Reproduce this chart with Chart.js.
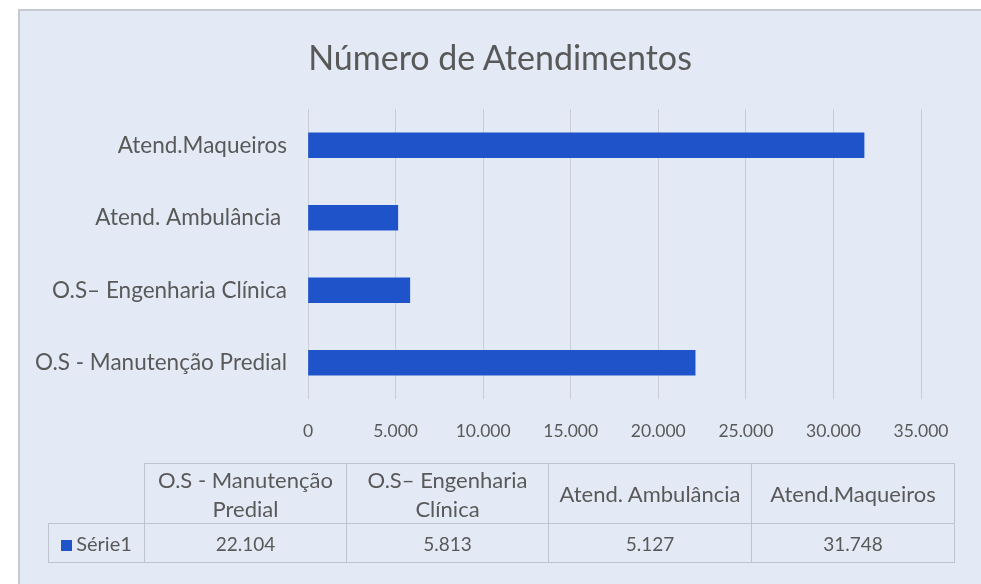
<!DOCTYPE html>
<html>
<head>
<meta charset="utf-8">
<script src="https://cdn.jsdelivr.net/npm/chart.js@4.4.1/dist/chart.umd.min.js"></script>
<style>
  html, body { margin: 0; padding: 0; background: #fff; }
  #wrap { position: relative; width: 981px; height: 584px; overflow: hidden; }
  #chart { position: absolute; left: 0; top: 0; }
  #title {
    position: absolute; left: 300px; width: 400px; top: 37px;
    text-align: center; line-height: 40px; white-space: nowrap;
    font-family: Lato, sans-serif; font-size: 34px; color: #595959;
  }
  #tbl {
    position: absolute; left: 48px; top: 463px;
    border-collapse: collapse; table-layout: fixed;
    font-family: Lato, sans-serif; font-size: 22px; color: #595959;
  }
  #tbl td { border: 1px solid #bec4ce; text-align: center; padding: 0; line-height: 29px; white-space: nowrap; }
  #tbl td.blank { border: none; }
  #tbl td.num { font-size: 19px; }
  #tbl td.series { font-size: 20px; }
  #tbl .key { display: inline-block; width: 11px; height: 11px; margin-right: 4px; vertical-align: 0px; }
</style>
</head>
<body>
<div id="wrap">
  <canvas id="chart" width="981" height="584"></canvas>
  <div id="title"></div>
  <table id="tbl"></table>
</div>
<script>
// -------- Data --------
const chartTitle = 'Número de Atendimentos';
const categories = ['O.S - Manutenção Predial', 'O.S– Engenharia Clínica', 'Atend. Ambulância ', 'Atend.Maqueiros'];
const tableHeaders = [['O.S - Manutenção', 'Predial'], ['O.S– Engenharia', 'Clínica'], ['Atend. Ambulância'], ['Atend.Maqueiros']];
const seriesName = 'Série1';
const seriesValues = [22104, 5813, 5127, 31748];
const xTickValues = [0, 5000, 10000, 15000, 20000, 25000, 30000, 35000];

// -------- Style --------
const BAR_COLOR = '#1f53c9';
const TEXT_COLOR = '#595959';
const GRID_COLOR = '#c9cdd5';
const FONT = 'Lato, sans-serif';

// -------- Utils --------
function fmtNum(n) {
  return String(n).replace(/\B(?=(\d{3})+(?!\d))/g, '.');
}

// panel background behind everything
const panelPlugin = {
  id: 'panel',
  beforeDraw(chart) {
    const ctx = chart.ctx;
    ctx.save();
    ctx.fillStyle = '#e3eaf6';
    ctx.fillRect(18, 9, chart.width - 18, chart.height - 9);
    ctx.strokeStyle = '#c4c9d2';
    ctx.lineWidth = 2;
    ctx.beginPath();
    ctx.moveTo(19, chart.height);
    ctx.lineTo(19, 10);
    ctx.lineTo(chart.width, 10);
    ctx.stroke();
    ctx.restore();
  }
};

// title sits over the whole panel, not the plot area, so it is plain text on top
document.getElementById('title').textContent = chartTitle;

// -------- Chart --------
new Chart(document.getElementById('chart'), {
  type: 'bar',
  data: {
    labels: categories,
    datasets: [{
      label: seriesName,
      data: seriesValues,
      backgroundColor: BAR_COLOR,
      borderWidth: 0,
      barThickness: 25,
    }]
  },
  options: {
    indexAxis: 'y',
    responsive: false,
    animation: false,
    layout: { padding: { left: 0, right: 60, top: 109, bottom: 140 } },
    plugins: {
      legend: { display: false },
      tooltip: { enabled: false },
      title: { display: false }
    },
    scales: {
      x: {
        min: 0,
        max: 35000,
        afterBuildTicks: (scale) => { scale.ticks = xTickValues.map(v => ({ value: v })); },
        afterFit: (scale) => { scale.height = 45; },
        border: { display: false },
        grid: { color: GRID_COLOR, drawTicks: false, lineWidth: 1 },
        ticks: {
          color: TEXT_COLOR,
          padding: 22,
          font: { family: FONT, size: 17.5 },
          callback: (v) => fmtNum(v),
          maxRotation: 0,
        }
      },
      y: {
        reverse: true,
        afterFit: (scale) => { scale.width = 308; },
        border: { display: false },
        grid: { display: false, drawTicks: false },
        ticks: {
          color: TEXT_COLOR,
          padding: 21,
          font: { family: FONT, size: 22.5 },
        }
      }
    }
  },
  plugins: [panelPlugin]
});

// -------- Data table --------
function buildTable() {
  const tbl = document.getElementById('tbl');
  const colW = [96, 202, 202, 203, 203];
  const cg = document.createElement('colgroup');
  colW.forEach(w => { const c = document.createElement('col'); c.style.width = w + 'px'; cg.appendChild(c); });
  tbl.appendChild(cg);

  const head = document.createElement('tr');
  head.style.height = '60px';
  const blank = document.createElement('td');
  blank.className = 'blank';
  head.appendChild(blank);
  tableHeaders.forEach(lines => {
    const td = document.createElement('td');
    td.innerHTML = lines.join('<br>');
    head.appendChild(td);
  });
  tbl.appendChild(head);

  const row = document.createElement('tr');
  row.style.height = '39px';
  const key = document.createElement('td');
  key.className = 'series';
  key.innerHTML = `<span class="key" style="background:${BAR_COLOR}"></span>${seriesName}`;
  row.appendChild(key);
  seriesValues.forEach(v => {
    const td = document.createElement('td');
    td.className = 'num';
    td.textContent = fmtNum(v);
    row.appendChild(td);
  });
  tbl.appendChild(row);
}
buildTable();
</script>
</body>
</html>
